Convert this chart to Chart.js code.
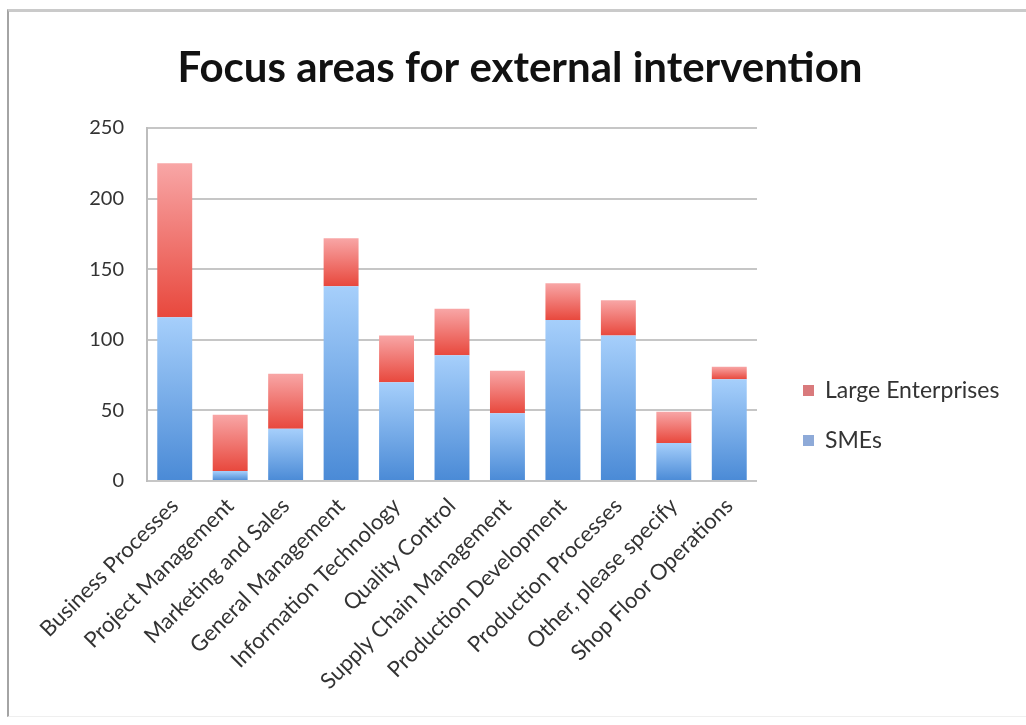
<!DOCTYPE html>
<html>
<head>
<meta charset="utf-8">
<script src="https://cdn.jsdelivr.net/npm/chart.js@4/dist/chart.umd.min.js"></script>
<style>
    html, body { margin: 0; padding: 0; background: #fff; }
    .frame {
        position: absolute; left: 7px; top: 9px; width: 1019px; height: 704px;
        border-top: 3px solid #cacaca; border-left: 2px solid #a4a4a4; border-bottom: 1px solid #efefef;
    }
    #wrap { position: absolute; left: 0; top: 0; width: 1026px; height: 725px; }
</style>
</head>
<body>
<div class="frame"></div>
<div id="wrap"><canvas id="chart" width="1026" height="725"></canvas></div>
<script>
const categories = [
    "Business Processes", "Project Management", "Marketing and Sales", "General Management",
    "Information Technology", "Quality Control", "Supply Chain Management", "Production Development",
    "Production Processes", "Other, please specify", "Shop Floor Operations"
];
const smes = [116, 7, 37, 138, 70, 89, 48, 114, 103, 27, 72];
const largeEnterprises = [109, 40, 39, 34, 33, 33, 30, 26, 25, 22, 9];
const yTicks = [0, 50, 100, 150, 200, 250];

const FONT = "Lato, 'Open Sans', sans-serif";

// each stacked segment gets its own top-to-bottom gradient
const segmentFill = (top, bottom, fallback) => ctx => {
    const chart = ctx.chart, y = chart.scales.y;
    if (!chart.chartArea || !y || ctx.type !== "data") return fallback;
    const sets = chart.data.datasets;
    let base = 0;
    for (let i = 0; i < ctx.datasetIndex; i++) base += sets[i].data[ctx.dataIndex];
    const y0 = y.getPixelForValue(base + ctx.raw), y1 = y.getPixelForValue(base);
    if (!isFinite(y0) || !isFinite(y1) || y0 === y1) return fallback;
    const g = chart.ctx.createLinearGradient(0, y0, 0, y1);
    g.addColorStop(0, top);
    g.addColorStop(1, bottom);
    return g;
};

const overlay = {
    id: "overlay",
    afterDraw(chart) {
        const c = chart.ctx;
        c.save();
        c.fillStyle = "#111";
        c.font = "bold 42px " + FONT;
        c.textAlign = "center";
        c.textBaseline = "middle";
        c.fillText("Focus areas for external intervention", 520, 68);

        // legend, top entry is the upper stack
        const items = [
            { text: "Large Enterprises", color: "#d97a7c", y: 391 },
            { text: "SMEs", color: "#8eaad8", y: 441 }
        ];
        c.font = "23px " + FONT;
        c.textAlign = "left";
        items.forEach(it => {
            c.fillStyle = it.color;
            c.fillRect(803, it.y - 6, 11, 11);
            c.fillStyle = "#333";
            c.fillText(it.text, 825, it.y);
        });
        c.restore();
    }
};

new Chart(document.getElementById("chart"), {
    type: "bar",
    data: {
        labels: categories,
        datasets: [{
            label: "SMEs",
            data: smes,
            backgroundColor: segmentFill("#a6cffb", "#4a8ad6", "#78aeea"),
        }, {
            label: "Large Enterprises",
            data: largeEnterprises,
            backgroundColor: segmentFill("#f8a6a6", "#e8483d", "#ef7670"),
        }]
    },
    options: {
        responsive: false,
        animation: false,
        events: [],
        categoryPercentage: 1,
        barPercentage: 0.63,
        layout: { padding: { left: 14, right: 269, top: 128, bottom: 0 } },
        plugins: {
            legend: { display: false },
            title: { display: false },
            tooltip: { enabled: false }
        },
        scales: {
            x: {
                stacked: true,
                grid: { display: false },
                border: { display: false },
                ticks: {
                    autoSkip: false,
                    maxRotation: 45,
                    minRotation: 45,
                    padding: 4,
                    color: "#333",
                    font: { family: FONT, size: 22 }
                },
                afterFit: scale => { scale.height = 244; }
            },
            y: {
                stacked: true,
                min: 0,
                max: 250,
                afterBuildTicks: scale => { scale.ticks = yTicks.map(v => ({ value: v })); },
                grid: { color: "#c6c6c6", lineWidth: 2, drawTicks: false },
                border: { color: "#bdbdbd", width: 2 },
                ticks: {
                    padding: 23,
                    color: "#333",
                    font: { family: FONT, size: 20 }
                },
                afterFit: scale => { scale.width = 133; }
            }
        }
    },
    plugins: [overlay]
});
</script>
</body>
</html>
